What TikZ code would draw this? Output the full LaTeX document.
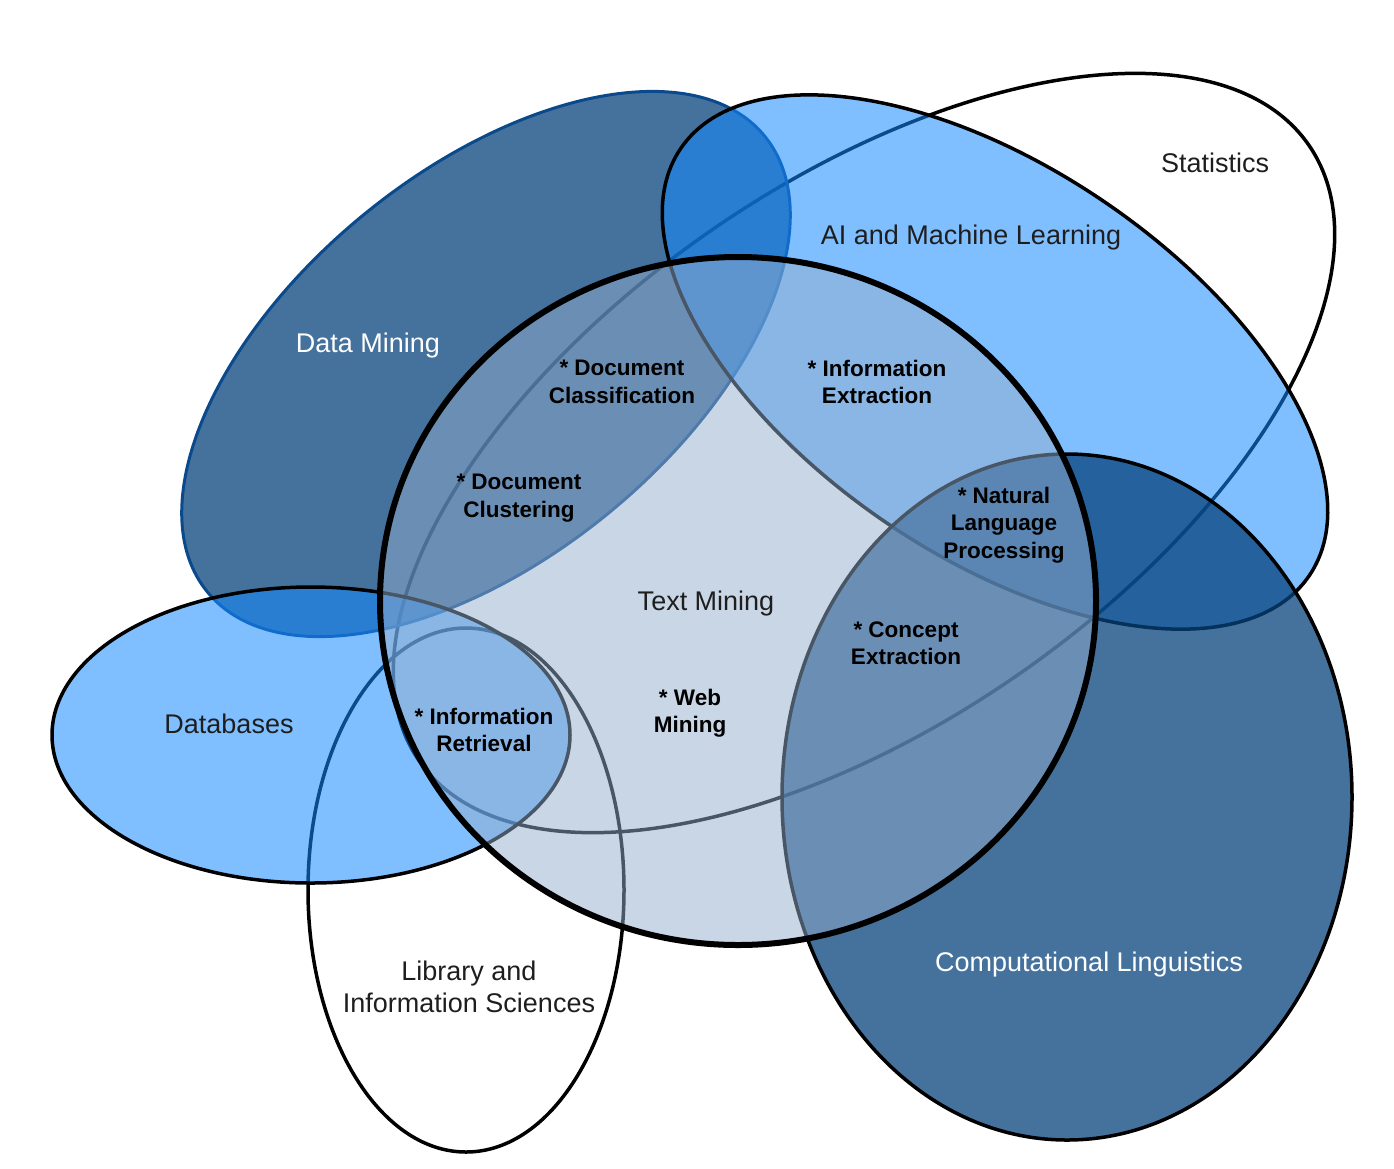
\documentclass[tikz,border=0pt]{standalone}
\usepackage{fontspec}
\setmainfont{Liberation Sans}
\definecolor{dmblue}{RGB}{6,67,124}
\definecolor{dmline}{RGB}{10,74,140}
\definecolor{aiblue}{RGB}{22,138,255}
\definecolor{tmfill}{RGB}{147,173,204}
\definecolor{labelgray}{RGB}{30,30,30}
\tikzset{
  field/.style={draw=black, line width=3.5pt},
  darkfield/.style={field, fill=dmblue, fill opacity=0.75},
  lightfield/.style={field, fill=aiblue, fill opacity=0.545},
  area/.style={font=\fontsize{27}{32}\selectfont, text=labelgray, align=center, inner sep=0pt},
  arealight/.style={area, text=white},
  topic/.style={font=\fontsize{22.5}{27.5}\selectfont\bfseries, align=center, inner sep=0pt}
}
\begin{document}
\begin{tikzpicture}[x=1pt,y=-1pt]
\useasboundingbox (0,0) rectangle (1394,1168);

    \draw[field, rotate around={34.7:(864,453)}] (864,453) ellipse [x radius=541, y radius=270];
    \draw[field] (466,890) ellipse [x radius=158, y radius=262];

   \draw[darkfield, draw=dmline, line width=3pt, rotate around={39.3:(486,364)}] (486,364) ellipse [x radius=360, y radius=193];
   \draw[lightfield, rotate around={-34.2:(995,362)}] (995,362) ellipse [x radius=380, y radius=194];
   \draw[lightfield] (311,735) ellipse [x radius=259, y radius=148];
   \draw[darkfield] (1067,797) ellipse [x radius=285, y radius=343];

\draw[line width=6pt, fill=tmfill, fill opacity=0.5] (738,601) ellipse [x radius=358, y radius=344];

\node[area] (stat) at (1215,163) {Statistics};
\node[area] (ai) at (971,238) {AI and Machine Learning};
\node[arealight] (dm) at (368,346) {Data Mining};
\node[area] (db) at (229,724) {Databases};
\node[area] (lib) at (469,987) {Library and\\Information Sciences};
\node[arealight] (cl) at (1089,965) {Computational Linguistics};
\node[area] (tm) at (706,604) {Text Mining};

\node[topic] (dclass) at (622,382) {* Document\\Classification};
\node[topic] (iext) at (877,382) {* Information\\Extraction};
\node[topic] (dclust) at (519,498) {* Document\\Clustering};
\node[topic] (nlp) at (1004,525) {* Natural\\Language\\Processing};
\node[topic] (cext) at (906,643) {* Concept\\Extraction};
\node[topic] (iret) at (484,730) {* Information\\Retrieval};
\node[topic] (web) at (690,713) {* Web\\Mining};

\end{tikzpicture}
\end{document}
